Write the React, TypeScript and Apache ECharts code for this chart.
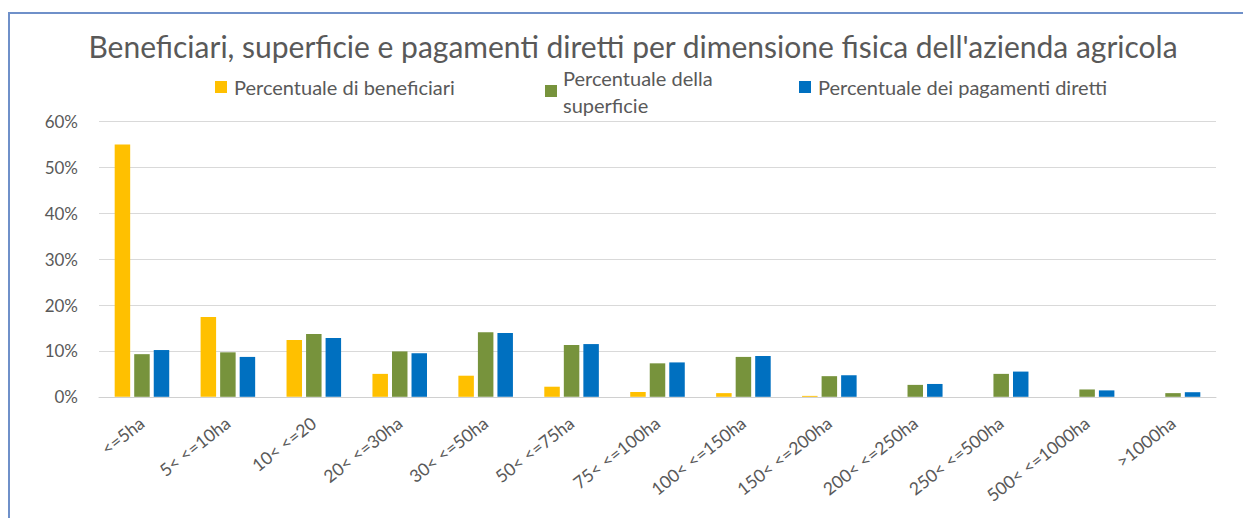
import React, { useEffect, useRef } from "react";
import * as echarts from "echarts";

const categories = [
  "<=5ha", "5< <=10ha", "10< <=20", "20< <=30ha", "30< <=50ha", "50< <=75ha",
  "75< <=100ha", "100< <=150ha", "150< <=200ha", "200< <=250ha", "250< <=500ha",
  "500< <=1000ha", ">1000ha",
];
const beneficiari = [55.0, 17.4, 12.4, 5.0, 4.6, 2.2, 1.05, 0.8, 0.2, 0, 0, 0, 0];
const superficie = [9.3, 9.7, 13.7, 9.9, 14.1, 11.3, 7.3, 8.7, 4.5, 2.6, 5.0, 1.6, 0.8];
const pagamenti = [10.2, 8.7, 12.8, 9.5, 13.9, 11.5, 7.5, 8.9, 4.7, 2.8, 5.5, 1.4, 1.0];
const yTicks = [0, 10, 20, 30, 40, 50, 60];

const names = ["Percentuale di beneficiari", "Percentuale della superficie", "Percentuale dei pagamenti diretti"];
const colors = ["#FFC000", "#77933C", "#0070C0"];
const FONT = "Lato";
const GREY = "#595959";

export default function App() {
  const ref = useRef<HTMLDivElement>(null);
  useEffect(() => {
    const chart = echarts.init(ref.current!, null, { renderer: "svg" });
    const series = [beneficiari, superficie, pagamenti].map((d, i) => ({
      name: names[i],
      type: "bar",
      data: d,
      barWidth: 15.5,
      barGap: "26%",
      itemStyle: { color: colors[i] },
    }));
    const legendBase = {
      orient: "horizontal",
      padding: 0,
      itemWidth: 12,
      itemHeight: 12,
      icon: "rect",
      selectedMode: false,
    };
    chart.setOption({
      animation: false,
      textStyle: { fontFamily: FONT },
      title: {
        text: "Beneficiari, superficie e pagamenti diretti per dimensione fisica dell'azienda agricola",
        left: 628,
        textAlign: "center",
        top: 26,
        textStyle: { fontFamily: FONT, fontSize: 30, fontWeight: "normal", color: GREY },
      },
      legend: [
        {
          ...legendBase,
          data: [names[0]],
          left: 215,
          top: 71,
          textStyle: { fontFamily: FONT, fontSize: 20, color: GREY, lineHeight: 24, padding: [8, 0, 0, 2] },
        },
        {
          ...legendBase,
          data: [names[1]],
          left: 545,
          top: 64,
          formatter: () => "Percentuale della\nsuperficie",
          textStyle: { fontFamily: FONT, fontSize: 20, color: GREY, lineHeight: 27, padding: [0, 0, 0, 1] },
        },
        {
          ...legendBase,
          data: [names[2]],
          left: 799,
          top: 71,
          textStyle: { fontFamily: FONT, fontSize: 20, color: GREY, lineHeight: 24, padding: [8, 0, 0, 2] },
        },
      ],
      grid: { left: 99, right: 27, top: 121.7, bottom: 121.2, containLabel: false },
      xAxis: {
        type: "category",
        data: categories,
        axisTick: { show: false },
        axisLine: { lineStyle: { color: "#D0D0D0", width: 1 } },
        axisLabel: {
          interval: 0,
          rotate: 38,
          margin: 24,
          fontFamily: FONT,
          fontSize: 17.5,
          color: GREY,
        },
      },
      yAxis: {
        type: "value",
        min: yTicks[0],
        max: yTicks[yTicks.length - 1],
        interval: 10,
        axisLine: { show: false },
        axisTick: { show: false },
        splitLine: { lineStyle: { color: "#D9D9D9", width: 1 } },
        axisLabel: {
          formatter: "{value}%",
          margin: 21,
          fontFamily: FONT,
          fontSize: 17,
          color: GREY,
        },
      },
      graphic: [
        {
          type: "rect",
          silent: true,
          shape: { x: 9, y: 13, width: 1400, height: 700 },
          style: { fill: "none", stroke: "#6F90C9", lineWidth: 2 },
          z: 100,
        },
      ],
      series,
    });
    return () => chart.dispose();
  }, []);
  return (
    <div
      ref={ref}
      style={{ position: "absolute", left: 0, top: 0, width: 1243, height: 518, background: "#fff" }}
    />
  );
}
